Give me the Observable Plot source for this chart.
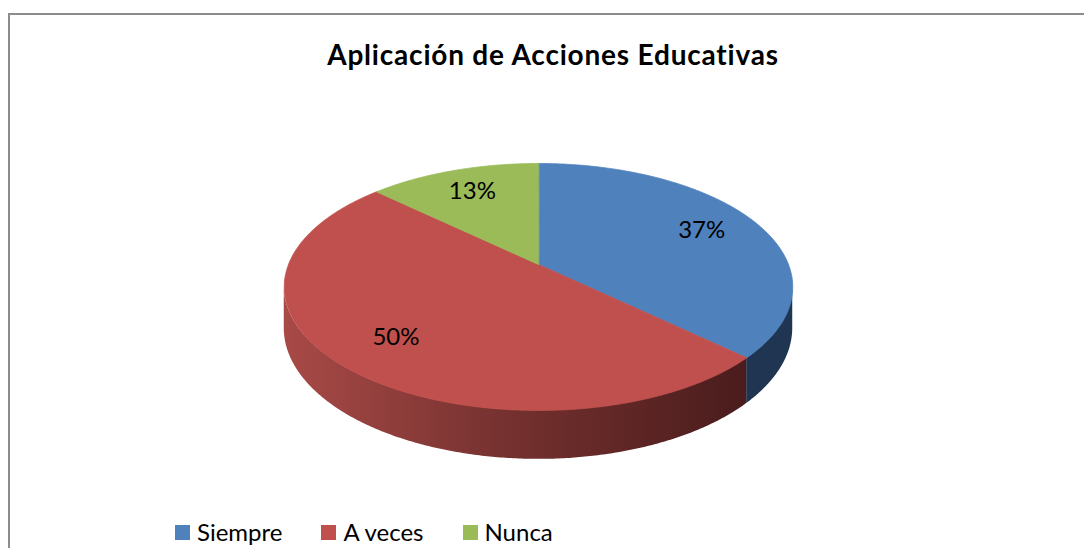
<!DOCTYPE html>
<html><head><meta charset="utf-8">
<script src="https://cdn.jsdelivr.net/npm/d3@7"></script>
<script src="https://cdn.jsdelivr.net/npm/@observablehq/plot@0.6"></script>
<style>
body{margin:0;background:#fff;}
#wrap{position:relative;width:1084px;height:548px;overflow:hidden;font-family:Lato,"Open Sans",sans-serif;color:#000;}
#frame{position:absolute;left:8px;top:13px;width:1200px;height:700px;border-left:2px solid #8c8c8c;border-top:2px solid #8c8c8c;box-sizing:border-box;}
#title{position:absolute;left:10px;top:37px;width:1086px;text-align:center;font-weight:bold;font-size:28px;letter-spacing:0.8px;line-height:34px;white-space:nowrap;}
#chart{position:absolute;left:0;top:0;}
#legend{position:absolute;left:175px;top:517px;display:flex;align-items:center;gap:39px;font-size:24px;line-height:30px;}
#legend .item{display:flex;align-items:center;}
#legend .sw{width:15px;height:15px;margin-right:7px;margin-top:1px;}
</style></head>
<body>
<div id="wrap">
  <div id="frame"></div>
  <div id="title"></div>
  <div id="chart"></div>
  <div id="legend"></div>
</div>
<script>
// ---- data ----
const title = "Aplicación de Acciones Educativas";
const categories = ["Siempre", "A veces", "Nunca"];
const percents = [37, 50, 13];
const labels = ["37%", "50%", "13%"];
const colors = ["#4F81BD", "#C0504D", "#9BBB59"];
const sideColors = ["#1F3552", "url(#sideRed)", "#5E7A2C"];

// ---- 3D perspective geometry ----
const K = 0.182;      // perspective strength
const DEPTH = 0.335;  // thickness of the pie (y units)
const total = d3.sum(percents);
function proj(r, t) {
  const w = 1 + K * r * Math.cos(t);
  return {x: r * Math.sin(t) / w, y: r * Math.cos(t) / w, yb: (r * Math.cos(t) - DEPTH) / w};
}
const thetaR = Math.acos(-K);          // right silhouette
const thetaL = 2 * Math.PI - thetaR;   // left silhouette

let acc = 0;
const slices = categories.map((c, i) => {
  const t0 = acc / total * 2 * Math.PI;
  acc += percents[i];
  const t1 = acc / total * 2 * Math.PI;
  return {c, i, t0, t1};
});

function arcPts(a, b) {
  const steps = Math.max(2, Math.ceil((b - a) / (Math.PI / 360)));
  return d3.range(steps + 1).map(k => a + (b - a) * k / steps);
}

const topMarks = slices.map(s => {
  const pts = [{x: 0, y: 0}, ...arcPts(s.t0, s.t1).map(t => proj(1, t))];
  return Plot.line(pts, {x: "x", y: "y", fill: colors[s.i], stroke: colors[s.i], strokeWidth: 0.8, curve: "linear-closed"});
});

const sideMarks = slices.flatMap(s => {
  const a = Math.max(s.t0, thetaR), b = Math.min(s.t1, thetaL);
  if (b <= a) return [];
  const pts = arcPts(a, b).map(t => proj(1, t));
  return [Plot.areaY(pts, {x: "x", y1: "y", y2: "yb", fill: sideColors[s.i], stroke: null})];
});

const labelPts = slices.map(s => {
  const m = (s.t0 + s.t1) / 2;
  return {...proj(0.75, m), label: labels[s.i]};
});

const svg = Plot.plot({
  width: 1084, height: 548,
  margin: 0,
  x: {domain: [-1, 1], range: [288, 788], axis: null},
  y: {domain: [-1, 1], range: [383.4, 144.6], axis: null},
  style: {background: "transparent", fontFamily: "Lato, 'Open Sans', sans-serif"},
  marks: [
    ...sideMarks,
    ...topMarks,
    Plot.text(labelPts, {x: "x", y: "y", text: "label", fontSize: 24, fill: "#000"})
  ]
});

// gradient for the red side wall
const defs = d3.create("svg:defs");
const g = defs.append("linearGradient").attr("id", "sideRed").attr("x1", 0).attr("x2", 1).attr("y1", 0).attr("y2", 0);
g.append("stop").attr("offset", 0).attr("stop-color", "#A84A47");
g.append("stop").attr("offset", 0.5).attr("stop-color", "#73302E");
g.append("stop").attr("offset", 1).attr("stop-color", "#4A1C1C");
svg.insertBefore(defs.node(), svg.firstChild);

document.getElementById("chart").appendChild(svg);
document.getElementById("title").textContent = title;

const legend = d3.select("#legend");
categories.forEach((c, i) => {
  const it = legend.append("div").attr("class", "item");
  it.append("div").attr("class", "sw").style("background", colors[i]);
  it.append("span").text(c);
});
</script>
</body></html>
